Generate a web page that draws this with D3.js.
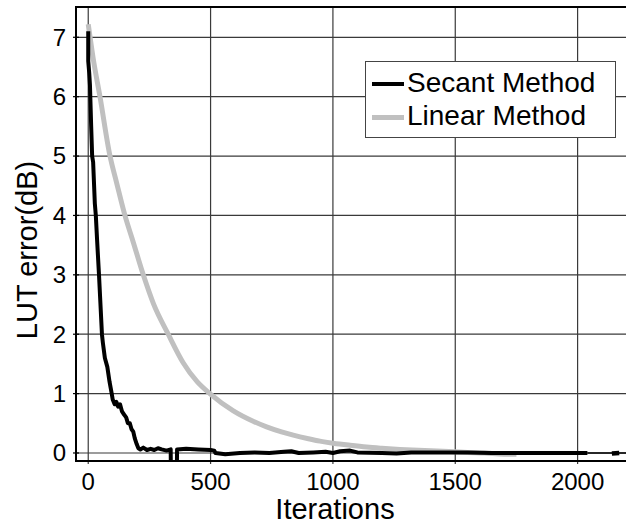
<!DOCTYPE html>
<html>
<head>
<meta charset="utf-8">
<script src="https://cdn.jsdelivr.net/npm/d3@7"></script>
<style>
  body { margin: 0; background: #fff; }
  text { font-family: "Liberation Sans", Arial, sans-serif; fill: #000; }
</style>
</head>
<body>
<svg id="chart" width="626" height="524"></svg>
<script>
// tick values
var xTicks = [0, 500, 1000, 1500, 2000];
var yTicks = [0, 1, 2, 3, 4, 5, 6, 7];

// Secant method (iteration, error dB)
var secantIter = [0, 0, 4, 7, 12, 16, 20, 27, 31, 36, 44, 50, 56, 60, 68, 78, 87, 96, 100, 108, 115, 122, 130, 138, 144, 155, 162, 170, 177, 184, 190, 198, 205, 213, 225, 240, 255, 270, 285, 300, 320, 337, 338, 362, 363, 400, 450, 500, 515, 520, 560, 620, 680, 740, 800, 830, 860, 920, 970, 1000, 1030, 1070, 1100, 1200, 1260, 1320, 1450, 1550, 1650, 1750, 1850, 1950, 2040];
var secantErr  = [7.1, 6.6, 6.4, 6.2, 5.5, 5.0, 4.9, 4.2, 4.0, 3.6, 3.0, 2.5, 2.0, 1.85, 1.6, 1.45, 1.2, 1.0, 0.9, 0.82, 0.86, 0.78, 0.82, 0.7, 0.66, 0.6, 0.5, 0.5, 0.4, 0.36, 0.25, 0.15, 0.08, 0.06, 0.09, 0.05, 0.07, 0.05, 0.08, 0.06, 0.04, 0.06, -0.4, -0.4, 0.06, 0.07, 0.06, 0.05, 0.04, 0.0, -0.02, 0.0, 0.01, 0.0, 0.02, 0.03, 0.0, 0.01, 0.02, 0.0, 0.03, 0.04, 0.01, 0.0, -0.01, 0.01, 0.01, 0.01, 0.0, 0.0, 0.0, 0.0, 0.0];
// thin tail of the secant trace and the short thick blob on it
var secantTailIter = [2040, 2140, 2170, 2250];
var secantTailErr  = [0.0, 0.0, 0.0, 0.0];
var secantBlobIter = [2140, 2170];
var secantBlobErr  = [-0.01, 0.0];

// Linear method
var linearIter = [0, 20, 48, 89, 116, 150, 184, 225, 266, 327, 388, 445, 497, 593, 674, 729, 790, 838, 900, 947, 1001, 1070, 1138, 1200, 1274, 1350, 1450, 1550, 1620, 1700, 1750];
var linearErr  = [7.22, 6.65, 6.0, 5.0, 4.55, 4.0, 3.55, 3.0, 2.52, 2.0, 1.52, 1.2, 1.0, 0.71, 0.535, 0.44, 0.355, 0.3, 0.24, 0.2, 0.165, 0.13, 0.1, 0.08, 0.06, 0.045, 0.03, 0.01, 0.0, -0.02, -0.02];

var seriesNames = ["Secant Method", "Linear Method"];

function drawChart() {
    var svg = d3.select("#chart");

    var padLeft = 76, padTop = 7, plotBottom = 461, plotRight = 640;

    var xScale = d3.scaleLinear().domain([-50, 2255]).range([padLeft, plotRight]);
    var yScale = d3.scaleLinear().domain([-0.135, 7.51]).range([plotBottom, padTop]);

    svg.append("clipPath").attr("id", "plotClip")
        .append("rect")
        .attr("x", padLeft).attr("y", padTop)
        .attr("width", plotRight - padLeft).attr("height", plotBottom - padTop);

    // grid
    var grid = svg.append("g");
    grid.selectAll("line.h").data(yTicks).enter().append("line")
        .attr("class", "h")
        .attr("x1", padLeft).attr("x2", plotRight)
        .attr("y1", function (d) { return yScale(d); })
        .attr("y2", function (d) { return yScale(d); })
        .attr("stroke", "#3a3a3a").attr("stroke-width", 1.2);
    grid.selectAll("line.v").data(xTicks).enter().append("line")
        .attr("class", "v")
        .attr("y1", padTop).attr("y2", plotBottom + 3)
        .attr("x1", function (d) { return xScale(d); })
        .attr("x2", function (d) { return xScale(d); })
        .attr("stroke", "#3a3a3a").attr("stroke-width", 1.2);

    // y ticks straddling the axis
    grid.selectAll("line.yt").data(yTicks).enter().append("line")
        .attr("class", "yt")
        .attr("x1", padLeft - 3).attr("x2", padLeft + 3)
        .attr("y1", function (d) { return yScale(d); })
        .attr("y2", function (d) { return yScale(d); })
        .attr("stroke", "#000").attr("stroke-width", 1.2);

    function toPoints(xs, ys) {
        return xs.map(function (x, i) { return [x, ys[i]]; });
    }

    var line = d3.line()
        .x(function (d) { return xScale(d[0]); })
        .y(function (d) { return yScale(d[1]); });

    var smoothLine = d3.line()
        .curve(d3.curveMonotoneX)
        .x(function (d) { return xScale(d[0]); })
        .y(function (d) { return yScale(d[1]); });

    var plot = svg.append("g").attr("clip-path", "url(#plotClip)");

    plot.append("path")
        .attr("d", smoothLine(toPoints(linearIter, linearErr)))
        .attr("fill", "none").attr("stroke", "#c0c0c0").attr("stroke-width", 5)
        .attr("stroke-linejoin", "round");

    plot.append("path")
        .attr("d", line(toPoints(secantTailIter, secantTailErr)))
        .attr("fill", "none").attr("stroke", "#000").attr("stroke-width", 1.6);

    plot.append("path")
        .attr("d", line(toPoints(secantBlobIter, secantBlobErr)))
        .attr("fill", "none").attr("stroke", "#000").attr("stroke-width", 4.5);

    plot.append("path")
        .attr("d", line(toPoints(secantIter, secantErr)))
        .attr("fill", "none").attr("stroke", "#000").attr("stroke-width", 4)
        .attr("stroke-linejoin", "round");

    // frame
    svg.append("rect")
        .attr("x", padLeft).attr("y", padTop)
        .attr("width", plotRight - padLeft).attr("height", plotBottom - padTop)
        .attr("fill", "none").attr("stroke", "#000").attr("stroke-width", 2);

    // tick labels
    svg.append("g").selectAll("text").data(yTicks).enter().append("text")
        .attr("x", 66)
        .attr("y", function (d) { return yScale(d); })
        .attr("dy", "0.35em")
        .attr("text-anchor", "end")
        .style("font-size", "24px")
        .text(function (d) { return d; });

    svg.append("g").selectAll("text").data(xTicks).enter().append("text")
        .attr("x", function (d) { return xScale(d); })
        .attr("y", 490)
        .attr("text-anchor", "middle")
        .style("font-size", "24px")
        .text(function (d) { return d; });

    // axis titles
    svg.append("text")
        .attr("x", 335).attr("y", 519)
        .attr("text-anchor", "middle")
        .style("font-size", "29px")
        .text("Iterations");

    svg.append("text")
        .attr("transform", "translate(37,250) rotate(-90)")
        .attr("text-anchor", "middle")
        .style("font-size", "29px")
        .text("LUT error(dB)");

    // legend
    var legend = svg.append("g");
    legend.append("rect")
        .attr("x", 365.5).attr("y", 61.5).attr("width", 250).attr("height", 76)
        .attr("fill", "#fff").attr("stroke", "#444").attr("stroke-width", 1);

    var legendColors = ["#000", "#c0c0c0"];
    var legendWidths = [4, 5];
    legend.selectAll("line").data(seriesNames).enter().append("line")
        .attr("x1", 372).attr("x2", 404)
        .attr("y1", function (d, i) { return 84 + i * 33.5; })
        .attr("y2", function (d, i) { return 84 + i * 33.5; })
        .attr("stroke", function (d, i) { return legendColors[i]; })
        .attr("stroke-width", function (d, i) { return legendWidths[i]; });

    legend.selectAll("text").data(seriesNames).enter().append("text")
        .attr("x", 407)
        .attr("y", function (d, i) { return 92 + i * 33; })
        .style("font-size", "28px")
        .text(function (d) { return d; });
}

drawChart();
</script>
</body>
</html>
